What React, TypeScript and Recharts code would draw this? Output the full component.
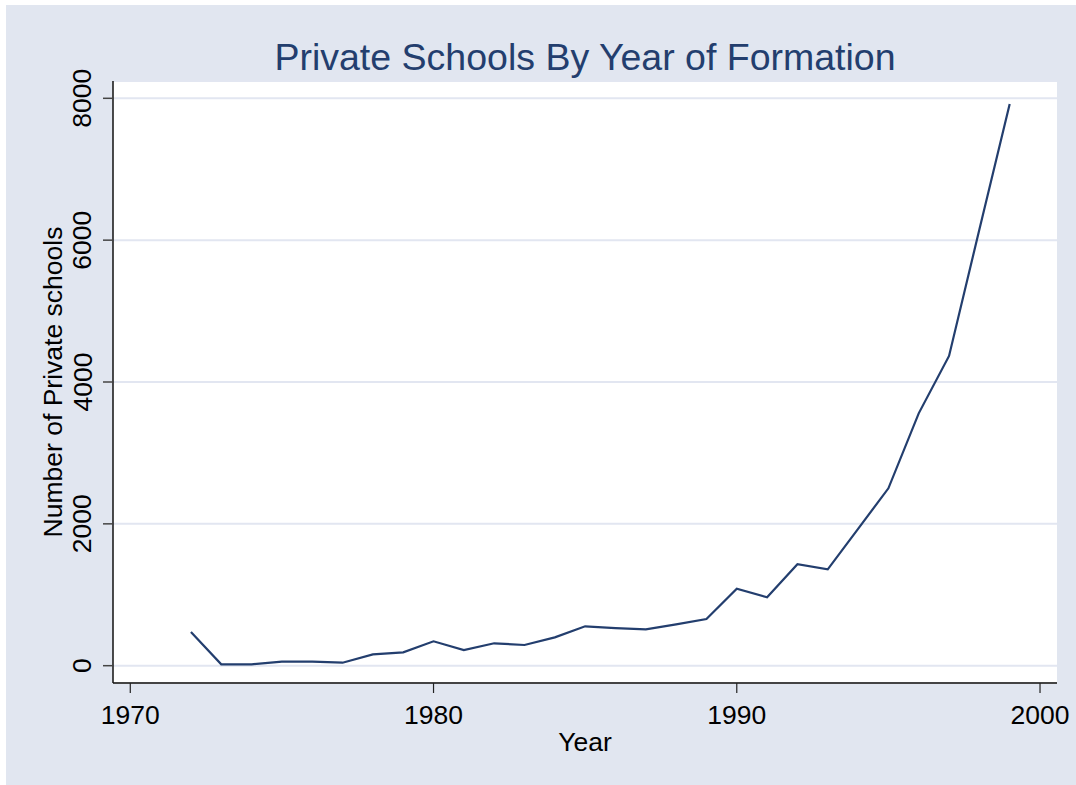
import React from 'react';
import { LineChart, Line, XAxis, YAxis, CartesianGrid } from 'recharts';

const years = [1972, 1973, 1974, 1975, 1976, 1977, 1978, 1979, 1980, 1981, 1982, 1983, 1984, 1985, 1986, 1987, 1988, 1989, 1990, 1991, 1992, 1993, 1994, 1995, 1996, 1997, 1998, 1999];
const schools = [475, 20, 20, 56, 56, 42, 160, 189, 344, 221, 316, 292, 400, 555, 531, 513, 583, 658, 1086, 964, 1430, 1359, 1930, 2501, 3558, 4367, 6150, 7920];
const xTicks = [1970, 1980, 1990, 2000];
const yTicks = [0, 2000, 4000, 6000, 8000];

const data = years.map((y, i) => ({ year: y, n: schools[i] }));

const FONT = '"Liberation Sans", Arial, Helvetica, sans-serif';
const NAVY = '#233E6E';

const XTick = (props: any) => {
  const { x, y, payload } = props;
  return (
    <text x={x} y={y + 28.5} textAnchor="middle" fontFamily={FONT} fontSize={26.5} fill="#000">
      {payload.value}
    </text>
  );
};

const YTick = (props: any) => {
  const { x, y, payload } = props;
  const bx = x - 9.5;
  return (
    <text x={bx} y={y} transform={`rotate(-90, ${bx}, ${y})`} textAnchor="middle" fontFamily={FONT} fontSize={26.5} fill="#000">
      {payload.value}
    </text>
  );
};

const XLabel = (props: any) => {
  const vb = props.viewBox;
  return (
    <text x={vb.x + vb.width / 2} y={vb.y + 68} textAnchor="middle" fontFamily={FONT} fontSize={26.5} fill="#000">
      Year
    </text>
  );
};

const YLabel = (props: any) => {
  const vb = props.viewBox;
  const cx = 61.5;
  const cy = vb.y + vb.height / 2;
  return (
    <text x={cx} y={cy} transform={`rotate(-90, ${cx}, ${cy})`} textAnchor="middle" fontFamily={FONT} fontSize={26.5} fill="#000">
      Number of Private schools
    </text>
  );
};

export default function App() {
  return (
    <div style={{ position: 'absolute', left: 0, top: 0, width: 1076, height: 785, background: '#ffffff', overflow: 'hidden' }}>
      <div style={{ position: 'absolute', left: 6, top: 5, width: 1070, height: 780, background: '#E1E6F0' }} />
      <div
        style={{
          position: 'absolute',
          left: 0,
          width: 1076,
          top: 39.3,
          textAlign: 'center',
          paddingLeft: 94,
          boxSizing: 'border-box',
          fontFamily: FONT,
          fontSize: 37.5,
          lineHeight: 1,
          color: NAVY,
          whiteSpace: 'nowrap',
        }}
      >
        Private Schools By Year of Formation
      </div>
      <div style={{ position: 'absolute', left: 0, top: 0 }}>
        <LineChart width={1076} height={785} data={data} margin={{ top: 81, right: 19, bottom: 42, left: 0 }}>
          <CartesianGrid vertical={false} horizontal={true} stroke="#E2E6F1" strokeWidth={2} fill="#ffffff" />
          <XAxis
            dataKey="year"
            type="number"
            domain={[1969.43, 2000.56]}
            ticks={xTicks}
            allowDataOverflow
            height={60}
            tickSize={10}
            tickLine={{ stroke: '#222', strokeWidth: 1.2 }}
            axisLine={{ stroke: '#444', strokeWidth: 2 }}
            tick={<XTick />}
            label={<XLabel />}
            interval={0}
          />
          <YAxis
            type="number"
            domain={[-244, 8244]}
            ticks={yTicks}
            allowDataOverflow
            width={113}
            tickSize={10}
            tickLine={{ stroke: '#444', strokeWidth: 1.5 }}
            axisLine={{ stroke: '#111', strokeWidth: 1.5 }}
            tick={<YTick />}
            label={<YLabel />}
            interval={0}
          />
          <Line
            type="linear"
            dataKey="n"
            stroke={NAVY}
            strokeWidth={2.2}
            dot={false}
            activeDot={false}
            isAnimationActive={false}
          />
        </LineChart>
      </div>
    </div>
  );
}
